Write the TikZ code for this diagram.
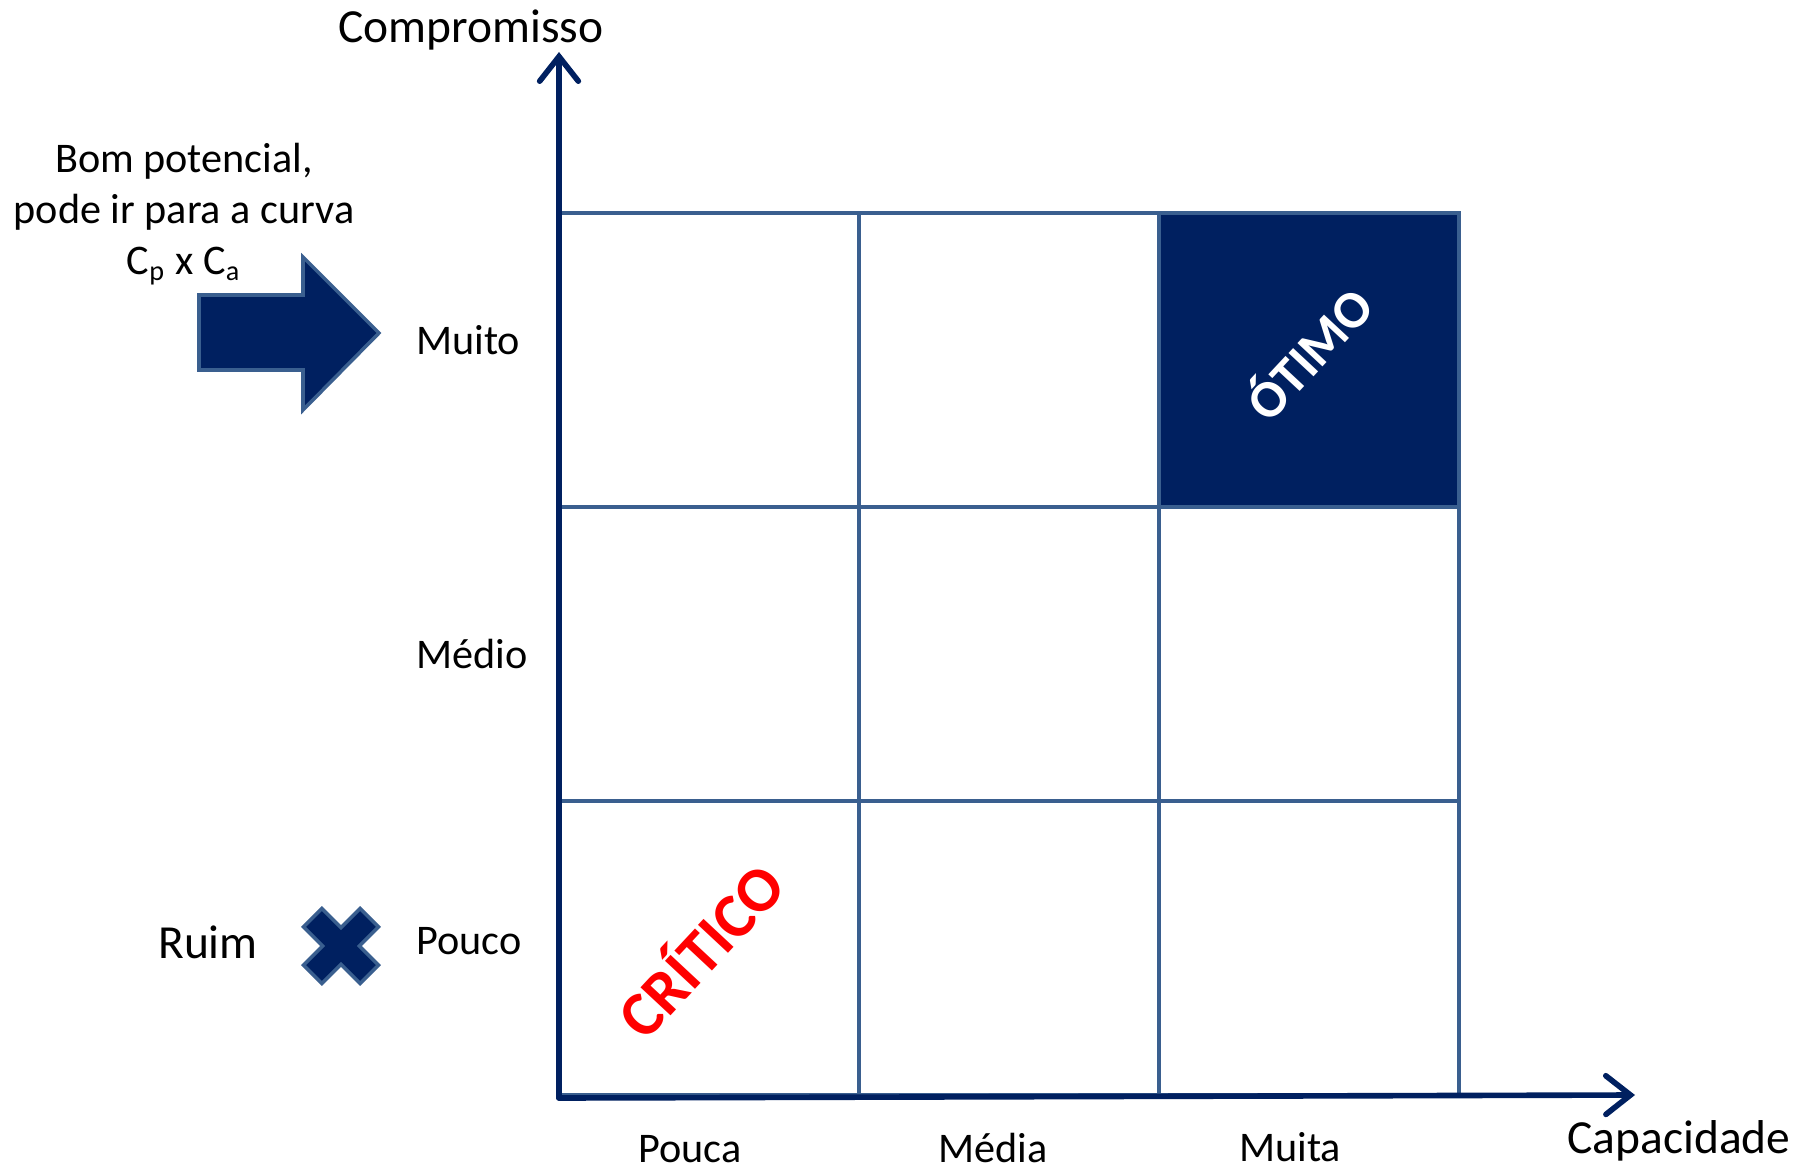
\documentclass[tikz,border=0pt]{standalone}
\usepackage{fontspec}
\setmainfont{Carlito}
\usetikzlibrary{positioning,arrows.meta}
\definecolor{navy}{HTML}{002060}
\definecolor{gridblue}{HTML}{3A5F8F}

\begin{document}
\begin{tikzpicture}[x=0.01cm, y=-0.01cm, line width=1.3pt,
    cell/.style={rectangle, draw=gridblue, minimum width=3cm, minimum height=2.94cm, inner sep=0pt},
    axis/.style={draw=navy, line width=1.6pt, line cap=round, -{Straight Barb[length=7pt,width=11pt,line cap=round]}},
    lbl/.style={font=\fontsize{12}{14.5}\selectfont, inner sep=0pt},
    axlbl/.style={font=\fontsize{13.5}{16}\selectfont, inner sep=0pt},
    symbolshape/.style={fill=navy, draw=gridblue, line width=1pt, line join=miter}]
    \useasboundingbox (0,0) rectangle (1812,1170);
    % matrix cells
    \foreach \i in {0,1,2}
        \foreach \j in {0,1,2}
            \node[cell] (c\i\j) at ({709+300*\i},{360+294*\j}) {};
    \node[cell, fill=navy] (best) at (c20.center) {};
    \node[rotate=47, text=white, font=\fontsize{15}{18}\selectfont\bfseries] (otimo) at (1307,352) {ÓTIMO};
    \node[rotate=47, text=red, font=\fontsize{18}{22}\selectfont\bfseries] (critico) at (698,948) {CRÍTICO};
    % axes
    \coordinate (o) at (559,1098);
    \coordinate (ytop) at (559,52);
    \coordinate (xend) at (1635,1095);
    \draw[axis] (o) -- (ytop);
    \draw[axis] (o) -- (xend);
    \node[axlbl, anchor=base] (comp) at (471,43) {Compromisso};
    \node[axlbl, anchor=base] (cap) at (1679,1153) {Capacidade};
    % row and column labels
    \node[lbl, anchor=base west] (muito) at (414,354) {Muito};
    \node[lbl, anchor=base west] (medio) at (414,668) {Médio};
    \node[lbl, anchor=base west] (pouco) at (414,954) {Pouco};
    \node[lbl, anchor=base] (pouca) at (690,1162) {Pouca};
    \node[lbl, anchor=base] (media) at (993,1162) {Média};
    \node[lbl, anchor=base] (muita) at (1290,1161) {Muita};
    % side notes
    \node[lbl, align=center] (bom) at (184,214) {Bom potencial,\\pode ir para a curva\\C\textsubscript{p} x C\textsubscript{a}};
    \draw[symbolshape] (199,295) -- (303,295) -- (303,257) -- (379,333) -- (303,410) -- (303,370) -- (199,370) -- cycle;
    \node[axlbl, anchor=base] (ruim) at (208,958) {Ruim};
    \begin{scope}[shift={(341,946)}, rotate=-45]
        \draw[symbolshape] (-40,-13) -- (-13,-13) -- (-13,-40) -- (13,-40) -- (13,-13) -- (40,-13)
            -- (40,13) -- (13,13) -- (13,40) -- (-13,40) -- (-13,13) -- (-40,13) -- cycle;
    \end{scope}
\end{tikzpicture}
\end{document}
